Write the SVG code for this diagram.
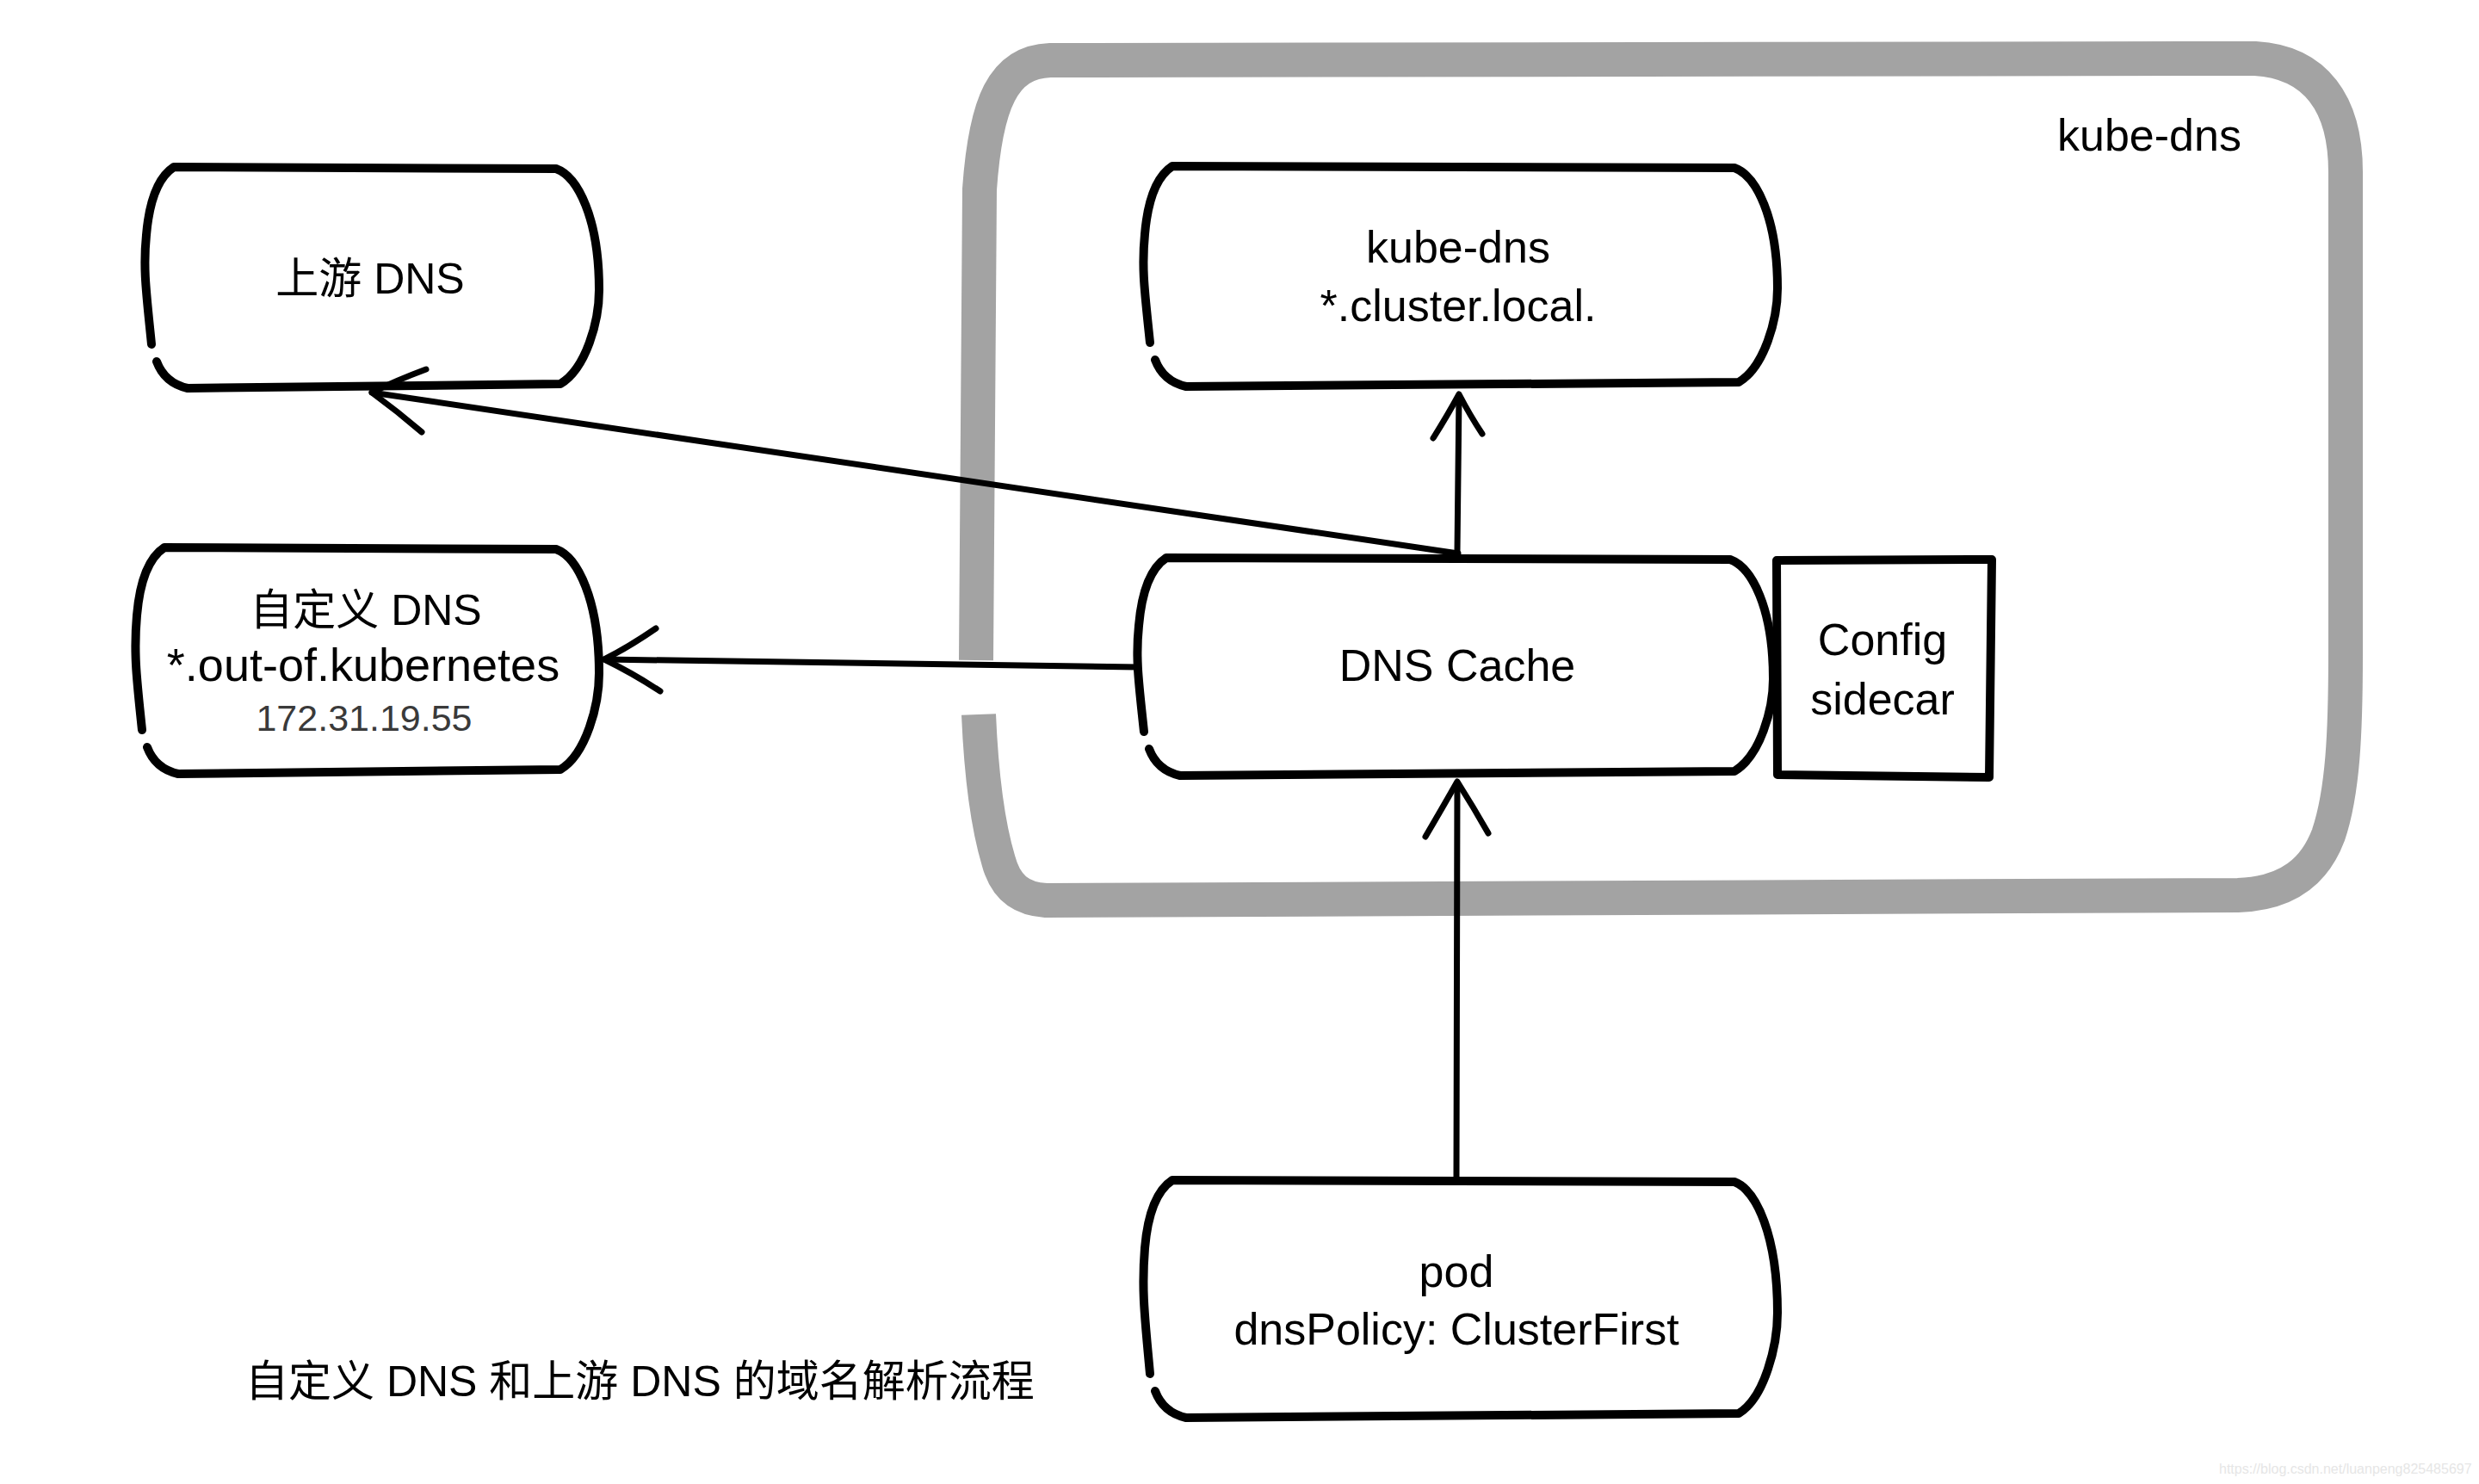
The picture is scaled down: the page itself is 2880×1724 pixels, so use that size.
<svg xmlns="http://www.w3.org/2000/svg" width="2880" height="1724" viewBox="0 0 2880 1724">
  <style>
    .box { fill: none; stroke: #000; stroke-width: 10; stroke-linecap: round; stroke-linejoin: round; }
    .frame { fill: none; stroke: #a3a3a3; stroke-width: 40; stroke-linecap: butt; stroke-linejoin: round; }
    .edge { fill: none; stroke: #000; stroke-width: 7; stroke-linecap: round; stroke-linejoin: round; }
    .t { font-family: "Liberation Sans", "Noto Sans CJK SC", sans-serif; font-size: 52px; fill: #000; text-anchor: middle; }
    .cjk { font-size: 50px; }
    .ip { font-size: 43px; fill: #3a3a3a; }
    .cap { text-anchor: start; }
    .wm { font-family: "Liberation Sans", sans-serif; font-size: 16px; fill: #e6e6e6; }
  </style>
  <rect x="0" y="0" width="2880" height="1724" fill="#fff"/>

  <g id="kube-dns-group">
    <path class="frame" d="M 1137,830 C 1140,900 1148,960 1160,1000 C 1168,1030 1185,1044 1215,1046 L 2600,1040 C 2660,1038 2690,1010 2705,970 C 2722,920 2725,850 2725,760 L 2725,200 C 2725,120 2690,72 2620,68 L 1220,70 C 1165,72 1145,120 1138,220 L 1134,767"/>
    <text class="t" x="2497" y="175">kube-dns</text>
  </g>

  <g id="upstream-dns">
    <path class="box" d="M 176,400 C 170,340 166,313 170,273 C 173,238 182,207 202,194 L 646,196 C 671,205 696,253 696,337 C 696,373 681,428 651,446 L 218,451 C 200,447 188,436 182,420"/>
    <text class="t cjk" x="430" y="341">上游 DNS</text>
  </g>

  <g id="custom-dns">
    <path class="box" d="M 165,848 C 159,790 155,760 159,715 C 162,680 171,649 191,636 L 646,638 C 671,647 696,697 696,782 C 696,819 681,876 651,894 L 207,899 C 189,895 177,884 171,868"/>
    <text class="t cjk" x="425" y="726">自定义 DNS</text>
    <text class="t" x="422" y="791" style="font-size:54px">*.out-of.kubernetes</text>
    <text class="t ip" x="423" y="849">172.31.19.55</text>
  </g>

  <g id="kube-dns">
    <path class="box" d="M 1336,398 C 1330,340 1326,313 1330,272 C 1333,237 1342,206 1362,193 L 2015,195 C 2040,204 2065,252 2065,335 C 2065,371 2050,426 2020,444 L 1378,449 C 1360,445 1348,434 1342,418"/>
    <text class="t" x="1694" y="305">kube-dns</text>
    <text class="t" x="1694" y="373">*.cluster.local.</text>
  </g>

  <g id="dns-cache">
    <path class="box" d="M 1329,850 C 1323,793 1319,766 1323,727 C 1326,692 1335,661 1355,648 L 2010,650 C 2035,659 2060,706 2060,789 C 2060,824 2045,878 2015,896 L 1371,901 C 1353,897 1341,886 1335,870"/>
    <text class="t" x="1693" y="791">DNS Cache</text>
  </g>

  <g id="config-sidecar">
    <path class="box" d="M 2064,651 L 2314,650 L 2311,903 L 2065,900 Z"/>
    <text class="t" x="2187" y="761">Config</text>
    <text class="t" x="2187" y="830">sidecar</text>
  </g>

  <g id="pod">
    <path class="box" d="M 1336,1596 C 1330,1530 1326,1500 1330,1450 C 1333,1415 1342,1384 1362,1371 L 2015,1373 C 2040,1382 2065,1435 2065,1525 C 2065,1563 2050,1624 2020,1642 L 1378,1647 C 1360,1643 1348,1632 1342,1616"/>
    <text class="t" x="1692" y="1495">pod</text>
    <text class="t" x="1692" y="1562">dnsPolicy: ClusterFirst</text>
  </g>

  <g id="connectors">
    <path class="edge" d="M 1694,643 L 432,456"/>
    <path class="edge" d="M 495,429 Q 460,442 432,456 Q 462,478 490,502"/>
    <path class="edge" d="M 1693,641 L 1695,460"/>
    <path class="edge" d="M 1665,509 Q 1682,482 1695,458 Q 1708,483 1722,504"/>
    <path class="edge" d="M 1322,775 L 703,766"/>
    <path class="edge" d="M 762,730 Q 730,752 702,766 Q 735,782 767,803"/>
    <path class="edge" d="M 1692,1370 L 1693,910"/>
    <path class="edge" d="M 1656,972 Q 1676,938 1693,908 Q 1712,938 1729,968"/>
  </g>

  <text class="t cjk cap" x="285" y="1622">自定义 DNS 和上游 DNS 的域名解析流程</text>
  <text class="wm" x="2578" y="1712">https://blog.csdn.net/luanpeng825485697</text>
</svg>
